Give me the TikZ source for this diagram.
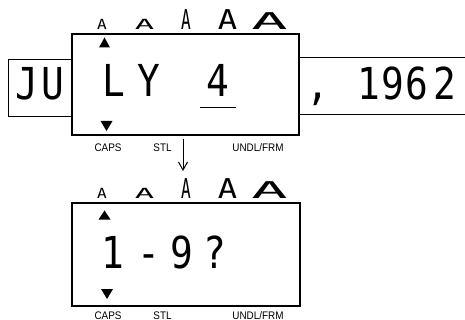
\documentclass[tikz,border=0pt]{standalone}
\usepackage{fontspec}
\setmainfont{Liberation Sans}
\newfontfamily\lcdfont{DejaVu Sans Mono}
\usetikzlibrary{arrows.meta}
\newcommand{\lcdch}[1]{\scalebox{0.86}[1]{#1}}
\tikzset{
  lcd/.style={inner sep=0pt, anchor=base, font=\lcdfont\fontsize{44}{44}\selectfont},
  smallA/.style={inner sep=0pt, anchor=base, font=\lcdfont\fontsize{14}{14}\selectfont},
  lbl/.style={inner sep=0pt, anchor=base, font=\fontsize{11}{11}\selectfont},
  dispbox/.style={draw, line width=2pt, inner sep=0pt},
  thinbox/.style={draw, line width=1pt, inner sep=0pt},
  thin/.style={line width=1pt},
  tri/.style={fill=black},
}
\newcommand{\Arow}[2]{%
  \node[smallA] (#1a) at (102,#2) {\scalebox{1.15}[1]{A}};
  \node[smallA] (#1b) at (144.5,#2) {\scalebox{2.3}[1]{A}};
  \node[smallA] (#1c) at (186,#2) {\scalebox{1.15}[1.95]{A}};
  \node[smallA] (#1d) at (227.5,#2) {\scalebox{2.3}[1.95]{A}};
  \node[smallA] (#1e) at (269.5,#2) {\scalebox{4.3}[1.65]{A}};
}
\newcommand{\Labels}[2]{%
  \node[lbl] (#1caps) at (108,#2) {\scalebox{0.9}[1]{CAPS}};
  \node[lbl] (#1stl) at (162.5,#2) {\scalebox{0.9}[1]{STL}};
  \node[lbl] (#1undl) at (258,#2) {\scalebox{0.9}[1]{UNDL/FRM}};
}
\begin{document}
\begin{tikzpicture}[x=1pt,y=-1pt]
\useasboundingbox (0,0) rectangle (465,320);
% ---- top display ----
\node[thinbox, minimum width=64pt, minimum height=57pt] (ju) at (40,88.5) {};
\draw[thin] (299,57.5) coordinate (rt) -- (465,57.5) coordinate (rte);
\draw[thin] (299,115) coordinate (rb) -- (465,115) coordinate (rbe);
\node[dispbox, fill=white, minimum width=227pt, minimum height=101pt] (top) at (185.5,84.5) {};
\node[lcd] (J) at (27,100) {\lcdch{J}};
\node[lcd] (U) at (52.5,100) {\lcdch{U}};
\node[lcd] (L) at (114,97) {\lcdch{L}};
\node[lcd] (Y) at (148.5,97) {\lcdch{Y}};
\node[lcd] (four) at (217.5,97) {\lcdch{4}};
\coordinate (ul1) at (200,108);
\coordinate (ul2) at (236,108);
\draw[thin] (ul1) -- (ul2);
\node[lcd] (comma) at (317.5,100) {\lcdch{,}};
\node[lcd] (d1) at (369,100) {\lcdch{1}};
\node[lcd] (d2) at (392.5,100) {\lcdch{9}};
\node[lcd] (d3) at (417,100) {\lcdch{6}};
\node[lcd] (d4) at (445,100) {\lcdch{2}};
\fill[tri] (104.5,37.5) -- (110,47.5) -- (99,47.5) -- cycle;
\fill[tri] (100.5,121) -- (112.5,121) -- (106.5,131) -- cycle;
\Arow{t}{30}
\Labels{t}{152}
% ---- arrow ----
\coordinate (as) at (183,139);
\coordinate (ae) at (183,171);
\draw[thin, -{Straight Barb[length=8pt,width=9pt,line width=1pt]}] (as) -- (ae);
% ---- bottom display ----
\node[dispbox, minimum width=228pt, minimum height=102.5pt] (bot) at (186,254.75) {};
\node[lcd] (b1) at (113,268) {\lcdch{1}};
\node[lcd] (b2) at (148.5,268) {\lcdch{-}};
\node[lcd] (b3) at (181.5,268) {\lcdch{9}};
\node[lcd] (b4) at (215,268) {\lcdch{?}};
\fill[tri] (104.5,210.5) -- (110.5,219.5) -- (98.5,219.5) -- cycle;
\fill[tri] (101,289) -- (113,289) -- (107,299) -- cycle;
\Arow{b}{199}
\Labels{b}{319}
\end{tikzpicture}
\end{document}
